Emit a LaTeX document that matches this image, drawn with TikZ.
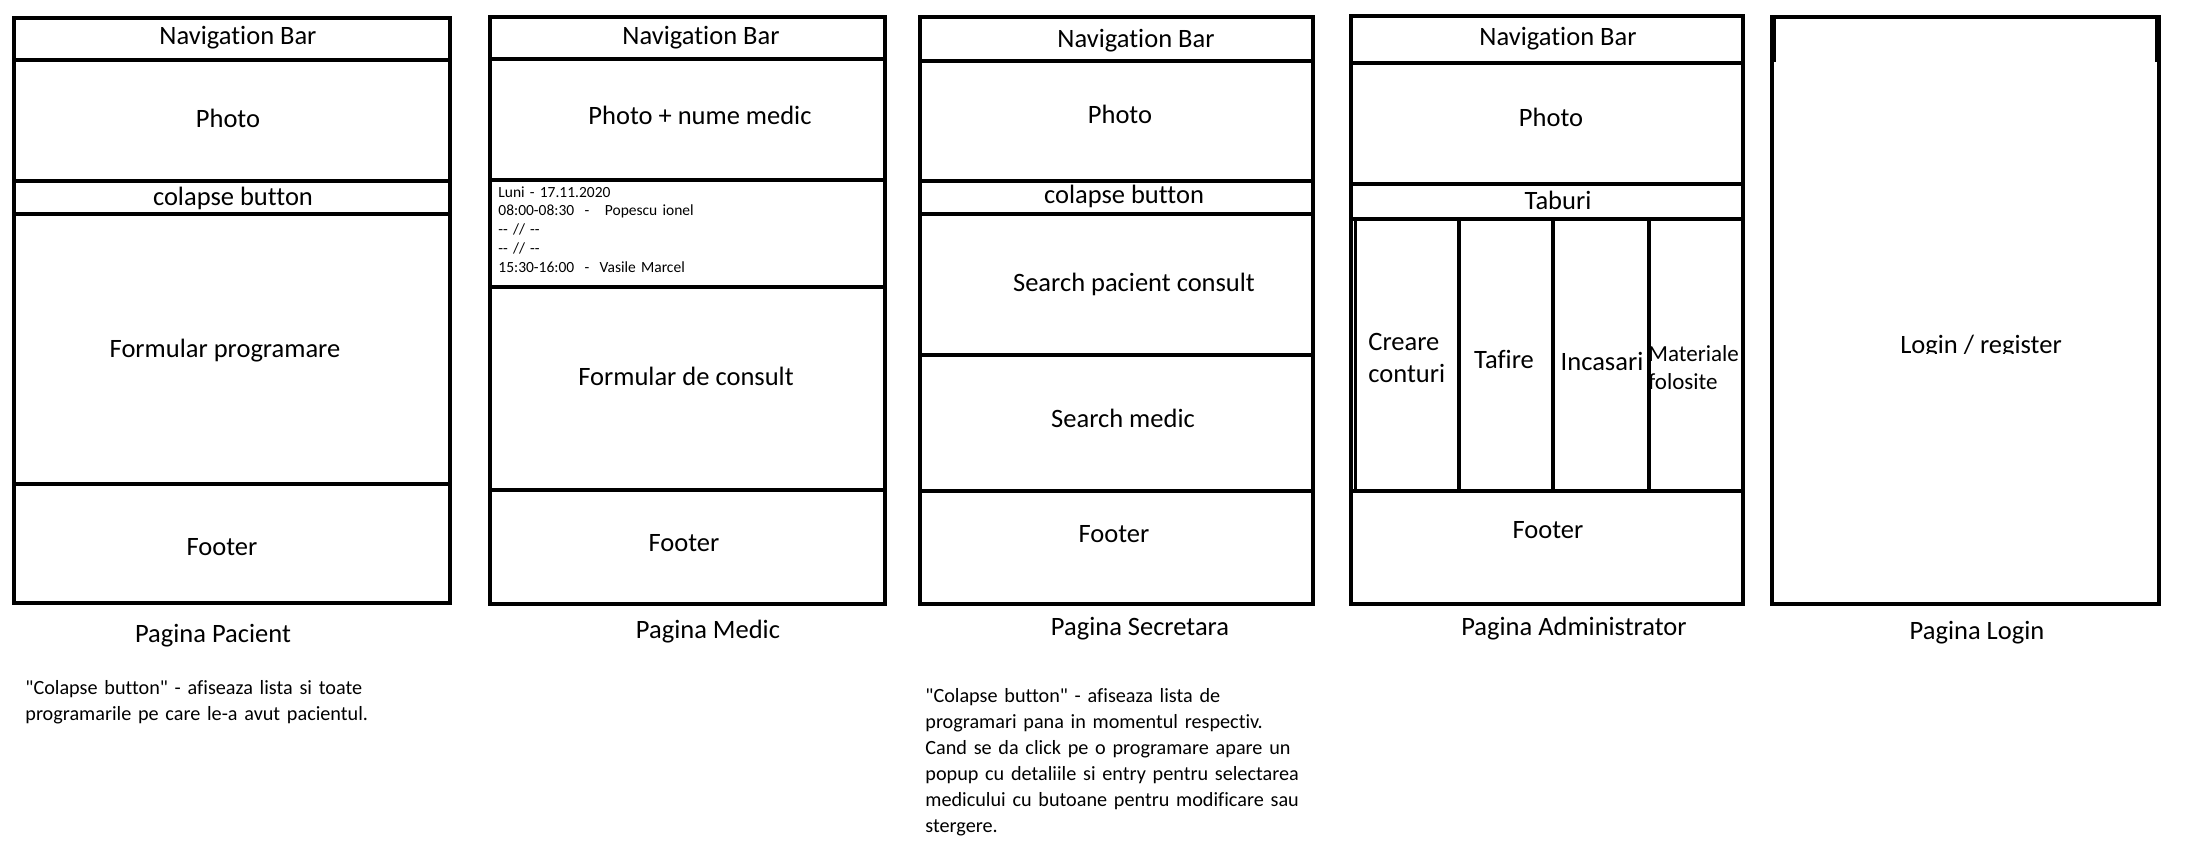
\documentclass[tikz,border=0pt]{standalone}
\usepackage{fontspec}
\setmainfont{Carlito}[Ligatures={TeXOff,NoCommon}]
\begin{document}
\begin{tikzpicture}[x=0.5pt,y=-0.5pt,
  frame/.style={draw=black,line width=2.4pt,line join=miter},
  sepline/.style={draw=black,line width=2.4pt},
  lbl/.style={inner sep=0pt,font=\fontsize{13.25}{16}\selectfont,text height=8.5pt,text depth=0pt,anchor=center},
  twoline/.style={inner sep=0pt,font=\fontsize{13.25}{16.2}\selectfont,anchor=base west,align=left,text width=60pt},
  smalltwo/.style={inner sep=0pt,font=\fontsize{11.5}{14.25}\selectfont,anchor=base west,align=left,text width=60pt},
  sched/.style={inner sep=0pt,font=\fontsize{7.75}{9.375}\selectfont,anchor=base west,align=left,text width=150pt},
  note/.style={inner sep=0pt,font=\fontsize{10.1}{13}\selectfont,anchor=base west,align=left,text width=210pt},
]
\useasboundingbox[fill=white] (0,0) rectangle (2186,846);

% ---------- texts ----------
% Pagina Pacient
\node[lbl] (p1nav) at (238,35.5) {Navigation Bar};
\node[lbl] (p1photo) at (228,118.5) {Photo};
\node[lbl] (p1col) at (233,196.5) {colapse button};
\node[lbl] (p1form) at (225,349) {Formular programare};
\node[lbl] (p1foot) at (222,547) {Footer};
\node[lbl] (p1cap) at (213,633.5) {Pagina Pacient};
\node[note] (p1note) at (25,694) {"Colapse button" - afiseaza lista si toate\\programarile pe care le-a avut pacientul.};

% Pagina Medic
\node[lbl] (p2nav) at (701,36.5) {Navigation Bar};
\node[lbl] (p2photo) at (700,115.5) {Photo + nume medic};
\node[sched] (p2list) at (498,197) {Luni - 17.11.2020\\08:00-08:30~~-~~~Popescu ionel\\-{}- // -{}-\\-{}- // -{}-\\15:30-16:00~~-~~Vasile Marcel};
\node[lbl] (p2form) at (686,377) {Formular de consult};
\node[lbl] (p2foot) at (684,542.5) {Footer};
\node[lbl] (p2cap) at (708,630) {Pagina Medic};

% Pagina Secretara
\node[lbl] (p3nav) at (1136,39) {Navigation Bar};
\node[lbl] (p3photo) at (1120,114.5) {Photo};
\node[lbl] (p3col) at (1124,195) {colapse button};
\node[lbl] (p3spc) at (1134,282.5) {Search pacient consult};
\node[lbl] (p3sm) at (1123,419) {Search medic};
\node[lbl] (p3foot) at (1114,534) {Footer};
\node[lbl] (p3cap) at (1140,626.5) {Pagina Secretara};
\node[note] (p3note) at (925,702) {"Colapse button" - afiseaza lista de\\programari pana in momentul respectiv.\\Cand se da click pe o programare apare un\\popup cu detaliile si entry pentru selectarea\\medicului cu butoane pentru modificare sau\\stergere.};

% Pagina Administrator
\node[lbl] (p4nav) at (1558,36.6) {Navigation Bar};
\node[lbl] (p4photo) at (1551,117.6) {Photo};
\node[lbl] (p4tab) at (1558,201) {Taburi};
\node[twoline] (p4creare) at (1368,350) {Creare\\conturi};
\node[lbl] (p4tafire) at (1504,359.5) {Tafire};
\node[lbl] (p4inc) at (1602,362) {Incasari};
\node[smalltwo] (p4mat) at (1648,361) {Materiale\\folosite};
\node[lbl] (p4foot) at (1548,530) {Footer};
\node[lbl] (p4cap) at (1574,626.5) {Pagina Administrator};

% Pagina Login
\begin{scope}
  \clip (1800,300) rectangle (2140,353.5);
  \node[lbl] (p5login) at (1981,344.5) {Login / register};
\end{scope}
\node[lbl] (p5cap) at (1977,630.5) {Pagina Login};

% ---------- frames ----------
% Pacient
\draw[frame] (14,18) rectangle (450,603);
\draw[sepline] (14,60) -- (450,60);
\draw[sepline] (14,181) -- (450,181);
\draw[sepline] (14,214) -- (450,214);
\draw[sepline] (14,484) -- (450,484);

% Medic
\draw[frame] (490,17) rectangle (885,604);
\draw[sepline] (490,59) -- (885,59);
\draw[sepline] (490,180) -- (885,180);
\draw[sepline] (490,287) -- (885,287);
\draw[sepline] (490,490) -- (885,490);

% Secretara
\draw[frame] (920,17) rectangle (1313,604);
\draw[sepline] (920,61) -- (1313,61);
\draw[sepline] (920,181) -- (1313,181);
\draw[sepline] (920,214) -- (1313,214);
\draw[sepline] (920,355) -- (1313,355);
\draw[sepline] (920,491) -- (1313,491);

% Administrator
\draw[frame] (1351,16) rectangle (1743,604);
\draw[sepline] (1351,63) -- (1743,63);
\draw[sepline] (1351,184) -- (1743,184);
\draw[sepline] (1351,219) -- (1743,219);
\draw[sepline] (1351,491) -- (1743,491);
\draw[sepline] (1459,219) -- (1459,491);
\draw[sepline] (1553,219) -- (1553,491);
\draw[sepline] (1649,219) -- (1649,491);
\draw[draw=black,line width=1.5pt] (1355,221) -- (1355,491);

% Login
\draw[frame] (1772,17) rectangle (2159,604);
\draw[draw=black,line width=1pt] (1775,17) -- (1775,62);
\draw[draw=black,line width=1pt] (2156,17) -- (2156,62);
\end{tikzpicture}
\end{document}
